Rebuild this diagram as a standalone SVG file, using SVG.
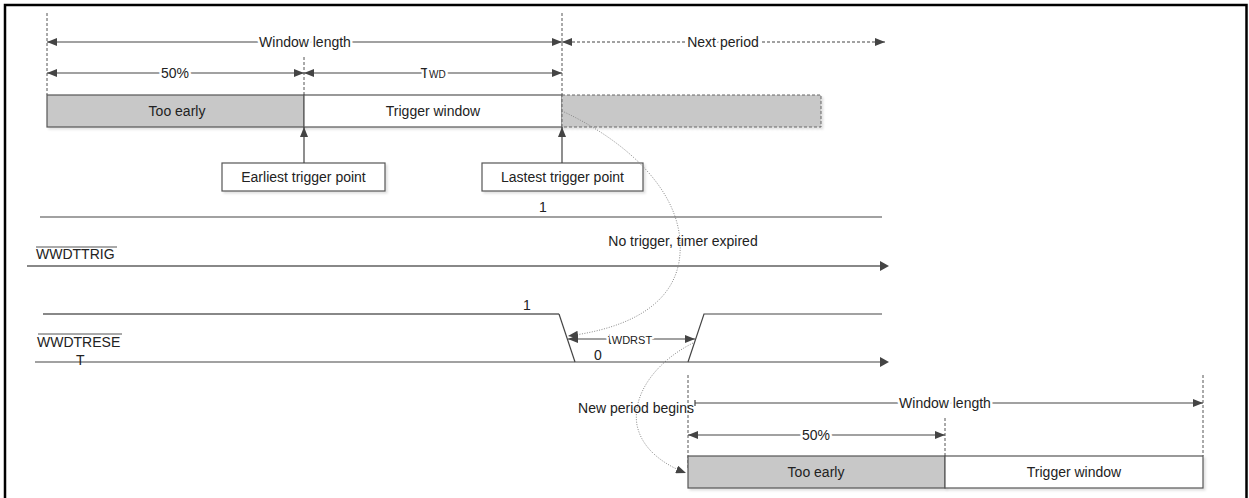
<svg xmlns="http://www.w3.org/2000/svg" width="1249" height="498" viewBox="0 0 1249 498">
<style>
text{font-family:"Liberation Sans",Arial,sans-serif;font-size:14px;fill:#222}
.c{text-anchor:middle}
.ln{stroke:#444;stroke-width:1.2;fill:none}
.dv{stroke:#555;stroke-width:1;stroke-dasharray:3,2;fill:none}
.dot{stroke:#888;stroke-width:1;stroke-dasharray:1,1.5;fill:none}
.gray{fill:#c8c8c8;stroke:#555;stroke-width:1.2}
.white{fill:#fff;stroke:#555;stroke-width:1.2}
.lbl{paint-order:stroke;stroke:#fff;stroke-width:5px;stroke-linejoin:round}
.sig{stroke:#444;stroke-width:1.2;fill:none}
.sigg{stroke:#888;stroke-width:2;fill:none}
</style>
<defs>
<marker id="ah" viewBox="0 0 10 8" refX="10" refY="4" markerWidth="10" markerHeight="8" markerUnits="userSpaceOnUse" orient="auto-start-reverse">
<path d="M0,0 L10,4 L0,8 Z" fill="#444"/>
</marker>
<filter id="sh" x="-5%" y="-20%" width="110%" height="150%">
<feDropShadow dx="2" dy="2" stdDeviation="1" flood-color="#000" flood-opacity="0.12"/>
</filter>
</defs>
<rect width="1249" height="498" fill="#fff"/>
<g id="frame">
<path d="M5,498 V5 H1246.5 V498" fill="none" stroke="#000" stroke-width="2.5"/>
</g>

<g id="guides">
<line class="dv" x1="47" y1="13" x2="47" y2="95"/>
<line class="dv" x1="304" y1="57" x2="304" y2="95"/>
<line class="dv" x1="562" y1="13" x2="562" y2="95"/>
<line class="dv" x1="688" y1="375" x2="688" y2="470" stroke="#888" stroke-width="1.6"/>
<line class="dv" x1="1203" y1="375" x2="1203" y2="456"/>
<line class="dv" x1="945" y1="418" x2="945" y2="456"/>
</g>

<g id="top-bar">
<rect class="gray" x="47" y="95" width="257" height="32" filter="url(#sh)"/>
<text class="c" x="177" y="116">Too early</text>
<rect class="white" x="304" y="95" width="258" height="32" filter="url(#sh)"/>
<text class="c" x="433" y="116">Trigger window</text>
<rect x="562" y="95" width="259" height="32" fill="#c8c8c8" stroke="#666" stroke-width="1" stroke-dasharray="3,2" filter="url(#sh)"/>
</g>

<g id="earliest">
<rect class="white" x="222" y="163" width="163" height="28" filter="url(#sh)"/>
<text class="c" x="303.5" y="182">Earliest trigger point</text>
</g>
<g id="lastest">
<rect class="white" x="482" y="163" width="161" height="28" filter="url(#sh)"/>
<text class="c" x="562.5" y="182">Lastest trigger point</text>
</g>

<g id="bottom-bar">
<rect class="gray" x="688" y="456" width="257" height="32" filter="url(#sh)"/>
<text class="c" x="816" y="477">Too early</text>
<rect class="white" x="945" y="456" width="258" height="32" filter="url(#sh)"/>
<text class="c" x="1074" y="477">Trigger window</text>
</g>

<g id="connectors">
<line class="ln" x1="47" y1="42" x2="562" y2="42" marker-start="url(#ah)" marker-end="url(#ah)"/>
<line class="ln" x1="562" y1="42" x2="885" y2="42" stroke-dasharray="3,2" marker-start="url(#ah)" marker-end="url(#ah)"/>
<line class="ln" x1="47" y1="73" x2="304" y2="73" marker-start="url(#ah)" marker-end="url(#ah)"/>
<line class="ln" x1="304" y1="73" x2="562" y2="73" marker-start="url(#ah)" marker-end="url(#ah)"/>
<line class="ln" x1="304" y1="163" x2="304" y2="127" marker-end="url(#ah)"/>
<line class="ln" x1="562" y1="163" x2="562" y2="127" marker-end="url(#ah)"/>
<line class="ln" x1="568" y1="339" x2="695" y2="339" marker-start="url(#ah)" marker-end="url(#ah)"/>
<line class="ln" x1="695" y1="403" x2="1203" y2="403" marker-end="url(#ah)"/>
<line class="ln" x1="695" y1="400" x2="695" y2="406"/>
<line class="ln" x1="688" y1="435" x2="945" y2="435" marker-start="url(#ah)" marker-end="url(#ah)"/>
<path class="dot" d="M562,111 C625,140 690,195 679,262 C670,312 615,330 568,336" marker-end="url(#ah)"/>
<path class="dot" d="M693,343 C655,362 632,395 637,425 C642,450 665,465 686,473" marker-end="url(#ah)"/>
</g>

<g id="signals">
<line class="sig" x1="40" y1="217" x2="882" y2="217"/>
<line class="sigg" x1="27" y1="266" x2="880" y2="266"/>
<path d="M880,261 L889,266 L880,271 Z" fill="#444"/>
<path class="sigg" d="M43,314 H559" stroke-width="1.4"/>
<path class="sig" d="M559,314 L575,362"/>
<path class="sig" d="M688,362 L704,314 H882"/>
<line class="sig" x1="35" y1="362" x2="880" y2="362"/>
<path d="M880,357 L889,362 L880,367 Z" fill="#444"/>
</g>

<g id="labels">
<text class="c lbl" x="305" y="47">Window length</text>
<text class="c lbl" x="175" y="78">50%</text>
<text class="c lbl" x="433" y="78">T<tspan font-size="10">WD</tspan></text>
<text class="c lbl" x="723" y="47">Next period</text>
<text class="c" x="543" y="212">1</text>
<text class="c" x="683" y="246">No trigger, timer expired</text>
<text x="36" y="259">WWDTTRIG</text>
<line x1="36" y1="247" x2="117" y2="247" stroke="#555" stroke-width="1"/>
<text class="c" x="527" y="310">1</text>
<text x="37" y="347">WWDTRESE</text>
<line x1="38" y1="334" x2="122" y2="334" stroke="#555" stroke-width="1"/>
<text x="76" y="365">T</text>
<text class="c lbl" x="630" y="344">t<tspan font-size="11">WDRST</tspan></text>
<text class="c" x="598" y="360">0</text>
<text class="c" x="636" y="413">New period begins</text>
<text class="c lbl" x="945" y="408">Window length</text>
<text class="c lbl" x="816" y="440">50%</text>
</g>
</svg>
